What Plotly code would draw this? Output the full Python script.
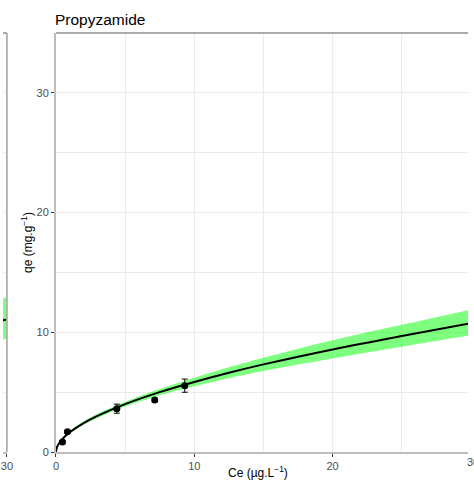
import plotly.graph_objects as go

# ---- data ----
title_text = "Propyzamide"
x_ticks = [0, 10, 20, 30]
y_ticks = [0, 10, 20, 30]

ce_obs = [0.47, 0.83, 4.40, 7.14, 9.31]
qe_obs = [0.84, 1.70, 3.62, 4.34, 5.54]
qe_err = [0.10, 0.12, 0.38, 0.15, 0.55]

ce_fit = [0, 0.05, 0.1, 0.25, 0.5, 1, 2, 3, 5, 7.5, 10, 12.5, 15, 20, 25, 30]
qe_fit = [0, 0.32, 0.47, 0.77, 1.13, 1.65, 2.42, 3.02, 4.00, 5.00, 5.85, 6.62, 7.32, 8.57, 9.69, 10.75]
qe_hi = [0, 0.34, 0.51, 0.83, 1.21, 1.75, 2.56, 3.19, 4.20, 5.26, 6.20, 7.07, 7.87, 9.33, 10.62, 11.90]
qe_lo = [0, 0.30, 0.43, 0.71, 1.05, 1.55, 2.28, 2.85, 3.80, 4.74, 5.50, 6.17, 6.77, 7.81, 8.80, 9.75]

# neighbouring panel (only its right edge is visible)
ce_left = [29.8, 30]
q_left = [11.00, 11.06]
q_left_hi = [12.85, 12.92]
q_left_lo = [9.40, 9.46]

GREEN = "rgba(0,255,0,0.5)"
FONT = "Liberation Sans, Arial, sans-serif"
W, H = 474, 492
L, T, B = 54, 33, 40

fig = go.Figure()

# main panel band
fig.add_trace(go.Scatter(x=ce_fit, y=qe_lo, mode="lines", line=dict(width=0, shape="spline"),
                         hoverinfo="skip", showlegend=False))
fig.add_trace(go.Scatter(x=ce_fit, y=qe_hi, mode="lines", line=dict(width=0, shape="spline"),
                         fill="tonexty", fillcolor=GREEN, hoverinfo="skip", showlegend=False))
fig.add_trace(go.Scatter(x=ce_fit, y=qe_fit, mode="lines",
                         line=dict(color="black", width=2, shape="spline"), showlegend=False))
fig.add_trace(go.Scatter(x=ce_obs, y=qe_obs, mode="markers",
                         marker=dict(color="black", size=7),
                         error_y=dict(type="data", array=qe_err, color="black", thickness=1, width=3),
                         showlegend=False))

# left neighbouring panel fragment
fig.add_trace(go.Scatter(x=ce_left, y=q_left_lo, mode="lines", line=dict(width=0),
                         xaxis="x2", yaxis="y", hoverinfo="skip", showlegend=False))
fig.add_trace(go.Scatter(x=ce_left, y=q_left_hi, mode="lines", line=dict(width=0),
                         fill="tonexty", fillcolor=GREEN, xaxis="x2", yaxis="y",
                         hoverinfo="skip", showlegend=False))
fig.add_trace(go.Scatter(x=ce_left, y=q_left, mode="lines", line=dict(color="black", width=2),
                         xaxis="x2", yaxis="y", showlegend=False))

xmax = (W - L) / 14.1
grid = "#EBEBEB"
tickfont = dict(family=FONT, size=11, color="#4D4D4D")

fig.update_layout(
    width=W, height=H,
    margin=dict(l=0, r=0, t=T, b=B),
    paper_bgcolor="white", plot_bgcolor="white",
    font=dict(family=FONT),
    xaxis=dict(domain=[L / W, 1], range=[0, xmax], tickvals=x_ticks,
               showgrid=True, gridcolor=grid, gridwidth=1,
               minor=dict(dtick=5, showgrid=True, gridcolor=grid, gridwidth=0.6),
               ticks="outside", ticklen=3, tickcolor="#333333", tickwidth=1,
               tickfont=tickfont, showline=True, linecolor="#BDBDBD", linewidth=2,
               zeroline=False, anchor="y"),
    xaxis2=dict(domain=[0, 4 / W], range=[29.8, 30], tickvals=[30],
                showgrid=False, ticks="outside", ticklen=3, tickcolor="#333333",
                tickfont=tickfont, showline=True, linecolor="#BDBDBD", linewidth=2,
                zeroline=False, anchor="y"),
    yaxis=dict(range=[0, 35], tickvals=y_ticks,
               showgrid=True, gridcolor=grid, gridwidth=1,
               minor=dict(dtick=5, showgrid=True, gridcolor=grid, gridwidth=0.6),
               ticks="outside", ticklen=3, tickcolor="#333333", tickwidth=1,
               tickfont=tickfont, showline=True, linecolor="#BDBDBD", linewidth=2,
               zeroline=False, anchor="x"),
    shapes=[
        # top border of main panel
        dict(type="line", xref="paper", yref="paper", x0=L / W, x1=1, y0=1, y1=1,
             line=dict(color="#595959", width=1)),
        # top border and right edge of neighbouring panel
        dict(type="line", xref="paper", yref="paper", x0=0, x1=4 / W, y0=1, y1=1,
             line=dict(color="#595959", width=1)),
        dict(type="line", xref="paper", yref="paper", x0=4 / W, x1=4 / W, y0=0, y1=1,
             line=dict(color="#A6A6A6", width=1.6)),
    ],
    annotations=[
        dict(text=title_text, xref="paper", yref="paper", x=L / W, xshift=-3,
             y=1 + (T - 20) / (H - T - B), xanchor="left", yanchor="middle",
             showarrow=False, font=dict(family=FONT, size=15.5, color="black")),
        dict(text="Ce (µg.L<sup>−1</sup>)", xref="paper", yref="paper", x=260 / W,
             y=-(472 - (H - B)) / (H - T - B), xanchor="center", yanchor="middle",
             showarrow=False, font=dict(family=FONT, size=12, color="black")),
        dict(text="qe (mg.g<sup>−1</sup>)", xref="paper", yref="paper", x=24 / W,
             y=0.5, xanchor="center", yanchor="middle", textangle=-90,
             showarrow=False, font=dict(family=FONT, size=12, color="black")),
        # clipped "30" tick label at the right edge of the main panel
        dict(text="30", xref="paper", yref="paper", x=1, xshift=-3,
             y=-(462 - (H - B)) / (H - T - B), xanchor="left", yanchor="middle",
             showarrow=False, font=tickfont),
    ],
)

fig.write_html("out.html", config={"displayModeBar": False},
               post_script="document.body.style.margin='0';document.body.style.overflow='hidden';")
